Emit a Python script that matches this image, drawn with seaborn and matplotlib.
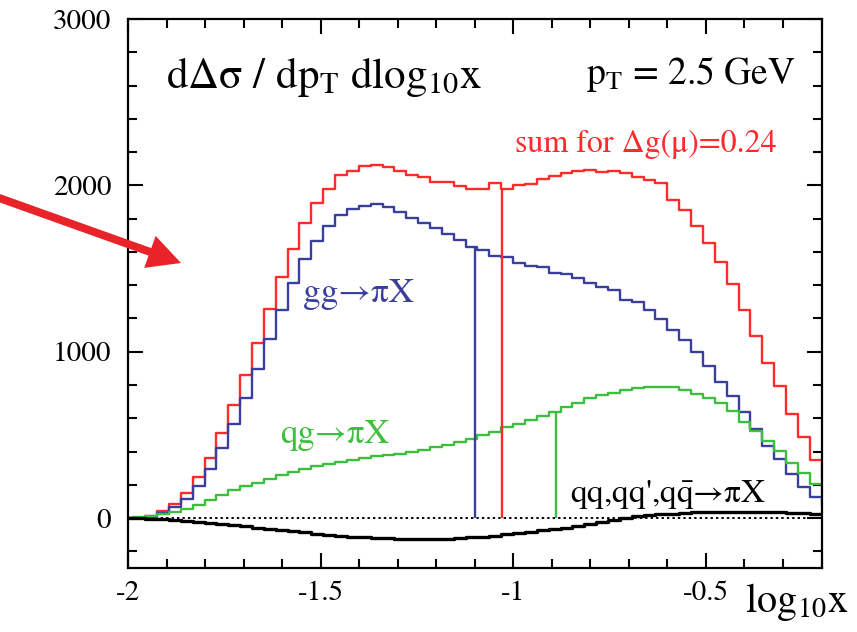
import numpy as np
import pandas as pd
import matplotlib
matplotlib.use("Agg")
import matplotlib.pyplot as plt
import seaborn as sns
from matplotlib.patches import FancyArrow
from matplotlib.transforms import IdentityTransform
from matplotlib.ticker import FixedLocator, MultipleLocator, FuncFormatter

# ---- binning in log10(x): 59 bins up to -0.2 plus one bin past the frame ----
X_LO = -2.017
BIN_W = 0.0308
N_BINS = 60

# ---- contributions to d(Delta sigma)/dpT dlog10x at pT = 2.5 GeV ----
sum_vals = [0, 3, 12, 40, 82, 153, 247, 364, 514, 679,
            858, 1055, 1256, 1447, 1615, 1775, 1892, 1978, 2060, 2087,
            2119, 2123, 2110, 2086, 2060, 2048, 2022, 2020, 1998, 1978,
            1976, 2016, 1978, 2004, 2010, 2040, 2054, 2074, 2087, 2095,
            2083, 2084, 2077, 2050, 2032, 2017, 1914, 1854, 1755, 1653,
            1537, 1410, 1251, 1095, 935, 791, 627, 486, 348, 239]

gg_vals = [0, 2, 8, 30, 64, 117, 194, 297, 423, 565,
           719, 897, 1074, 1251, 1412, 1558, 1668, 1755, 1823, 1859,
           1876, 1890, 1868, 1837, 1804, 1775, 1741, 1705, 1673, 1629,
           1613, 1576, 1569, 1532, 1514, 1507, 1476, 1468, 1442, 1412,
           1388, 1372, 1311, 1301, 1251, 1198, 1131, 1071, 1000, 915,
           820, 736, 639, 538, 433, 353, 267, 187, 127, 70]

qg_vals = [0, 5, 14, 24, 36, 55, 80, 110, 140, 170,
           193, 213, 237, 258, 278, 297, 311, 327, 337, 352,
           364, 372, 379, 388, 398, 408, 428, 440, 458, 478,
           498, 518, 548, 564, 591, 613, 639, 665, 689, 719,
           739, 753, 769, 779, 785, 785, 785, 771, 745, 722,
           691, 644, 580, 523, 466, 405, 329, 269, 207, 150]

qq_vals = [0, -2, -5, -8, -11, -16, -21, -27, -34, -41,
           -49, -57, -64, -71, -79, -86, -93, -99, -105, -111,
           -116, -119, -122, -124, -125, -125, -124, -123, -120, -116,
           -111, -105, -98, -90, -82, -74, -66, -57, -45, -36,
           -23, -9, 2, 10, 17, 23, 27, 31, 34, 36,
           38, 39, 39, 38, 37, 35, 32, 29, 26, 24]

# positions (log10 x) of the vertical markers
MARK_SUM = -1.03
MARK_GG = -1.10
MARK_QG = -0.89

X_TICKS = [-2, -1.5, -1, -0.5]
X_RANGE = (-2.0, -0.2)
Y_RANGE = (-300, 3000)

C_SUM = "#ff2a2a"
C_GG = "#3a3f9e"
C_QG = "#3cbf3c"
C_QQ = "#000000"
C_ARROW = "#e8232a"

sns.set_theme(style="ticks")
plt.rcParams["font.family"] = ["STIXGeneral", "Liberation Serif", "DejaVu Serif"]
plt.rcParams["mathtext.fontset"] = "stix"
plt.rcParams["axes.unicode_minus"] = False

W, H = 857, 632
fig = plt.figure(figsize=(W / 100, H / 100), dpi=100)
fig.patch.set_facecolor("white")


def fx(px):
    return px / W


def fy(py):
    return 1 - py / H


ax = fig.add_axes([fx(128), fy(568), (821.5 - 128) / W, (568 - 19) / H])
ax.set_facecolor("white")

edges = X_LO + BIN_W * np.arange(N_BINS + 1)
centers = 0.5 * (edges[:-1] + edges[1:])

series = [
    (sum_vals, C_SUM, 1.7),
    (gg_vals, C_GG, 1.7),
    (qg_vals, C_QG, 1.7),
    (qq_vals, C_QQ, 2.4),
]
for vals, col, lw in series:
    frame = pd.DataFrame({"logx": centers, "w": np.asarray(vals, dtype=float)})
    sns.histplot(data=frame, x="logx", weights="w", bins=edges.tolist(),
                 element="step", fill=False, color=col, linewidth=lw,
                 ax=ax, legend=False)


def value_at(vals, xpos):
    idx = np.searchsorted(edges, xpos) - 1
    return vals[idx]


for vals, col, xm in [(sum_vals, C_SUM, MARK_SUM), (gg_vals, C_GG, MARK_GG),
                      (qg_vals, C_QG, MARK_QG)]:
    ax.vlines(xm, 0, value_at(vals, xm), color=col, linewidth=1.7)

ax.axhline(0, color="black", linewidth=1.4, linestyle=(0, (1.2, 1.6)), zorder=1)

ax.set_xlim(*X_RANGE)
ax.set_ylim(*Y_RANGE)
ax.set_xlabel("")
ax.set_ylabel("")

ax.xaxis.set_major_locator(FixedLocator(X_TICKS))
ax.xaxis.set_minor_locator(MultipleLocator(0.1))
ax.xaxis.set_major_formatter(FuncFormatter(lambda v, p: f"{v:g}"))
ax.yaxis.set_major_locator(MultipleLocator(1000))
ax.yaxis.set_minor_locator(MultipleLocator(200))
ax.tick_params(which="both", direction="in", top=True, right=True,
               width=1.5, colors="black", labelsize=21)
ax.tick_params(which="major", length=11)
ax.tick_params(which="minor", length=6.5)
ax.tick_params(axis="y", pad=12)
ax.tick_params(axis="x", pad=9)
for sp in ax.spines.values():
    sp.set_visible(True)
    sp.set_linewidth(1.6)
    sp.set_color("black")

# ---- annotations ----
fig.text(fx(166), fy(88), r"dΔσ / dp$_{\mathrm{T}}$ dlog$_{\mathrm{10}}$x",
         fontsize=31, va="baseline", color="black")
fig.text(fx(586), fy(84), r"p$_{\mathrm{T}}$ = 2.5 GeV",
         fontsize=27, va="baseline", color="black")
fig.text(fx(515), fy(152), "sum for Δg(μ)=0.24",
         fontsize=23, va="baseline", color=C_SUM)
fig.text(fx(303), fy(302), "gg→πX", fontsize=25.5, va="baseline", color=C_GG)
fig.text(fx(280), fy(443), "qg→πX", fontsize=25, va="baseline", color=C_QG)
fig.text(fx(570), fy(502), r"qq,qq',q$\bar{\mathrm{q}}$→πX",
         fontsize=24, va="baseline", color="black")
fig.text(fx(745), fy(612), r"log$_{\mathrm{10}}$x",
         fontsize=29, va="baseline", color="black")

# red pointer arrow entering from the left edge
tail = (-5, H - 196.5)
tip = (181, H - 263)
fig.add_artist(FancyArrow(tail[0], tail[1], tip[0] - tail[0], tip[1] - tail[1],
                          width=8, head_width=34, head_length=33,
                          length_includes_head=True, color=C_ARROW,
                          linewidth=0, transform=IdentityTransform()))

fig.savefig("out.png", dpi=100, facecolor="white")
